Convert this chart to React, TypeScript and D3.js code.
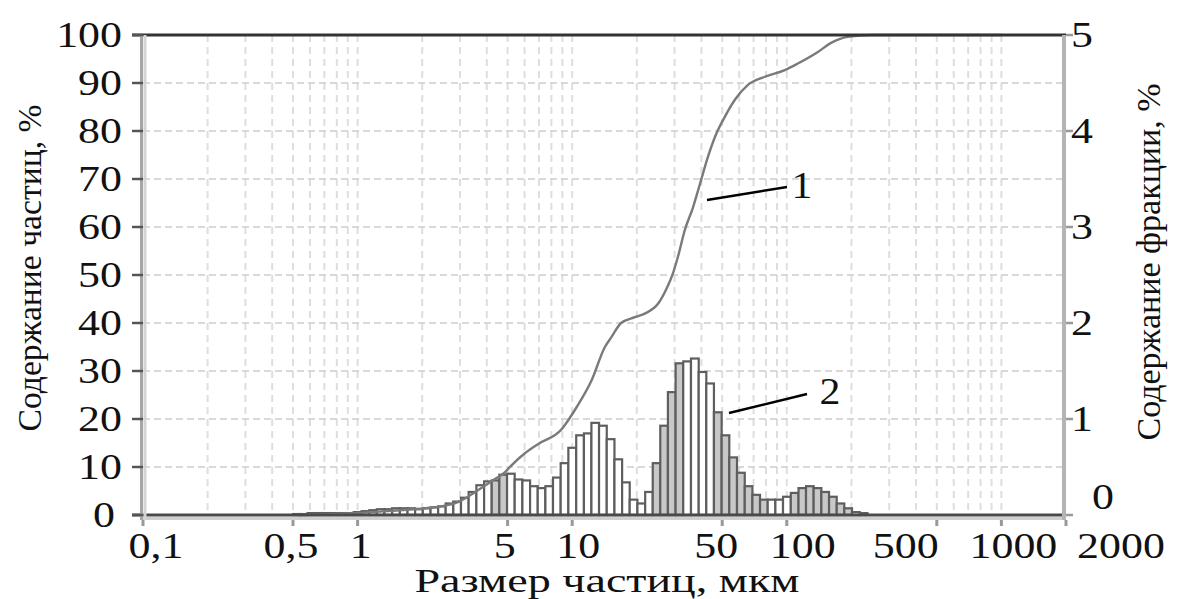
import React from "react";
import * as d3 from "d3";

// histogram (2): fraction centres, µm, and fraction content, %
const binSizes = [
  0.52, 0.56, 0.61, 0.66, 0.72, 0.78, 0.85, 0.92,
  1.0, 1.09, 1.18, 1.28, 1.39, 1.51, 1.64, 1.78, 1.93, 2.1, 2.28, 2.47, 2.68, 2.91,
  3.16, 3.43, 3.73, 4.05, 4.39, 4.77, 5.18, 5.62, 6.11, 6.63, 7.2, 7.81, 8.48, 9.21,
  10.0, 10.9, 11.8, 12.8, 13.9, 15.1, 16.4, 17.8, 19.3, 21.0, 22.8, 24.7, 26.8, 29.1,
  31.6, 34.3, 37.3, 40.5, 43.9, 47.7, 51.8, 56.2, 61.1, 66.4, 72.0, 78.2, 84.9, 92.2,
  100, 109, 118, 128, 139, 151, 164, 178, 193, 210, 228,
];
const binValues = [
  0.01, 0.01, 0.02, 0.02, 0.02, 0.02, 0.02, 0.02,
  0.03, 0.04, 0.05, 0.06, 0.06, 0.07, 0.07, 0.07, 0.06, 0.07, 0.08, 0.09, 0.12, 0.14,
  0.18, 0.24, 0.31, 0.35, 0.36, 0.42, 0.43, 0.37, 0.36, 0.3, 0.28, 0.3, 0.39, 0.54,
  0.7, 0.83, 0.85, 0.96, 0.93, 0.79, 0.58, 0.34, 0.16, 0.12, 0.24, 0.54, 0.93, 1.28,
  1.58, 1.6, 1.63, 1.49, 1.37, 1.07, 0.83, 0.6, 0.44, 0.3, 0.21, 0.16, 0.16, 0.16,
  0.19, 0.23, 0.28, 0.3, 0.28, 0.24, 0.19, 0.12, 0.07, 0.03, 0.02,
];

// cumulative curve (1)
const cumSizes = [
  0.53, 0.8, 1.09, 1.44, 2.07, 2.65, 3.0, 3.45, 4.2, 4.88,
  5.2, 6.0, 6.95, 8.9, 9.6, 10.5, 12.3, 14.2, 15.2, 16.9,
  19.6, 21.9, 25.1, 27.4, 29.5, 31.1, 33.5, 36.5, 39.4, 42.9,
  46.3, 51.5, 57.3, 65.9, 79, 97.9, 112, 139, 160, 192, 250, 1000,
];
const cumValues = [
  0, 0.2, 0.5, 0.9, 1.4, 2.1, 2.9, 4.5, 7.0, 9.0,
  10.3, 12.8, 14.8, 17.8, 19.8, 22.5, 28, 35, 37, 40,
  41.2, 42, 44, 47, 50.4, 53.8, 59.4, 64, 69, 74.6,
  78.8, 83, 86.5, 89.6, 91.3, 92.7, 94, 96.4, 98.3, 99.6, 100, 100,
];

// axes
const xTickValues = [0.1, 0.5, 1, 5, 10, 50, 100, 500, 1000, 2000];
const xTickLabels = ["0,1", "0,5", "1", "5", "10", "50", "100", "500", "1000", "2000"];
const leftTicks = [0, 10, 20, 30, 40, 50, 60, 70, 80, 90, 100];
const rightTicks = [0, 1, 2, 3, 4, 5];

// label nudges as placed in the original figure (px)
const xLabelNudge = [13, -2, 3, -3, 6, -6, 16, -31, 12, 55];
// size ranges whose bars look grey-filled in the original
const shadedRanges = [[4.2, 5.0], [23, 33], [46, 80], [103, 200]];

const FONT = "'Liberation Serif', 'Times New Roman', serif";
const W = 1180;
const H = 599;

const x = d3.scaleLog().domain([0.1, 2000]).range([143, 1066]);
const yL = d3.scaleLinear().domain([0, 100]).range([515, 35]);
const yR = d3.scaleLinear().domain([0, 5]).range([515, 35]);

const Txt = ({ x, y, anchor = "middle", size = 36, sx = 1.22, children }: any) => (
  <text
    transform={`translate(${x},${y}) scale(${sx},1)`}
    textAnchor={anchor}
    fontFamily={FONT}
    fontSize={size}
    fill="#111"
  >
    {children}
  </text>
);

export default function App() {
  const n = binSizes.length;
  const bars = binSizes.map((s, i) => {
    const prev = i > 0 ? binSizes[i - 1] : (s * s) / binSizes[i + 1];
    const next = i < n - 1 ? binSizes[i + 1] : (s * s) / binSizes[i - 1];
    const x0 = x(Math.sqrt(prev * s));
    const x1 = x(Math.sqrt(s * next));
    const shaded = shadedRanges.some(([a, b]) => s >= a && s <= b);
    return { x0, x1, y: yR(binValues[i]), shaded };
  });

  const line = d3
    .line<number>()
    .x((_, i) => x(cumSizes[i]))
    .y((d) => yL(d))
    .curve(d3.curveMonotoneX);

  const vGrid = x.ticks().filter((v) => v > 0.1 && v <= 1000);
  const x0 = x(0.1);
  const x1 = x(2000);

  return (
    <svg
      width={W}
      height={H}
      style={{ position: "absolute", left: 0, top: 0, background: "#fff" }}
    >
      {/* grid */}
      {vGrid.map((v, i) => (
        <line
          key={"vg" + i}
          x1={x(v)}
          x2={x(v)}
          y1={yL(100)}
          y2={yL(0)}
          stroke="#dedede"
          strokeWidth={2}
          strokeDasharray="7 5"
        />
      ))}
      {leftTicks.slice(1, -1).map((v) => (
        <line
          key={"hg" + v}
          x1={x0}
          x2={x1}
          y1={yL(v)}
          y2={yL(v)}
          stroke="#cdcdcd"
          strokeWidth={1.5}
          strokeDasharray="7 4"
        />
      ))}

      {/* bars (2) */}
      {bars.map((b, i) => (
        <rect
          key={"b" + i}
          x={b.x0}
          y={b.y}
          width={b.x1 - b.x0}
          height={yR(0) - b.y}
          fill={b.shaded ? "#c8c8c8" : "#fff"}
          stroke="#5e5e5e"
          strokeWidth={2.2}
        />
      ))}

      {/* cumulative curve (1) */}
      <path d={line(cumValues) || ""} fill="none" stroke="#7a7a7a" strokeWidth={2.4} />

      {/* frame */}
      <line x1={132} x2={x1} y1={yL(100)} y2={yL(100)} stroke="#333" strokeWidth={3} />
      <line x1={132} x2={x1} y1={yL(0)} y2={yL(0)} stroke="#4a4a4a" strokeWidth={3} />
      <line x1={x0} x2={x1} y1={yL(0) + 3.5} y2={yL(0) + 3.5} stroke="#cfcfcf" strokeWidth={3} />
      <line x1={x0 - 1.5} x2={x0 - 1.5} y1={yL(100)} y2={yL(0) + 5} stroke="#a6a6a6" strokeWidth={3} />
      <line x1={x0 + 2} x2={x0 + 2} y1={yL(100)} y2={yL(0) + 5} stroke="#d4d4d4" strokeWidth={3} />
      <line x1={x1 - 2} x2={x1 - 2} y1={yL(100)} y2={yL(0) + 5} stroke="#b4b4b4" strokeWidth={4} />

      {/* ticks */}
      {leftTicks.map((v) => (
        <line key={"lt" + v} x1={132} x2={x0} y1={yL(v)} y2={yL(v)} stroke="#555" strokeWidth={2.5} />
      ))}
      {rightTicks.map((v) => (
        <line key={"rt" + v} x1={x1} x2={x1 + 7} y1={yR(v)} y2={yR(v)} stroke="#999" strokeWidth={2.5} />
      ))}
      {xTickValues.map((v) => (
        <line key={"xt" + v} x1={x(v)} x2={x(v)} y1={yL(0) + 5} y2={yL(0) + 11} stroke="#999" strokeWidth={3} />
      ))}

      {/* tick labels */}
      {leftTicks.map((v) => (
        <Txt key={"ll" + v} x={v === 0 ? 115 : 122} y={yL(v) + 12} anchor="end">
          {v}
        </Txt>
      ))}
      {rightTicks.map((v) => (
        <Txt
          key={"rl" + v}
          x={v === 0 ? 1092 : 1071}
          y={v === 0 ? yR(v) - 6 : yR(v) + 12}
          anchor="start"
        >
          {v}
        </Txt>
      ))}
      {xTickValues.map((v, i) => (
        <Txt key={"xl" + v} x={x(v) + xLabelNudge[i]} y={558}>
          {xTickLabels[i]}
        </Txt>
      ))}

      {/* axis titles */}
      <text
        x={607}
        y={592}
        textAnchor="middle"
        fontFamily={FONT}
        fontSize={33}
        textLength={385}
        lengthAdjust="spacingAndGlyphs"
        fill="#111"
      >
        Размер частиц, мкм
      </text>
      <text
        transform="translate(41,268) rotate(-90)"
        textAnchor="middle"
        fontFamily={FONT}
        fontSize={34}
        textLength={327}
        lengthAdjust="spacingAndGlyphs"
        fill="#111"
      >
        Содержание частиц, %
      </text>
      <text
        transform="translate(1160,262) rotate(-90)"
        textAnchor="middle"
        fontFamily={FONT}
        fontSize={34}
        textLength={357}
        lengthAdjust="spacingAndGlyphs"
        fill="#111"
      >
        Содержание фракции, %
      </text>

      {/* annotations */}
      <line x1={707} y1={200} x2={787} y2={187} stroke="#000" strokeWidth={2.5} />
      <Txt x={802} y={198} size={38} sx={1.1}>1</Txt>
      <line x1={729} y1={413} x2={807} y2={394} stroke="#000" strokeWidth={2.5} />
      <Txt x={830} y={404} size={38} sx={1.1}>2</Txt>
    </svg>
  );
}
